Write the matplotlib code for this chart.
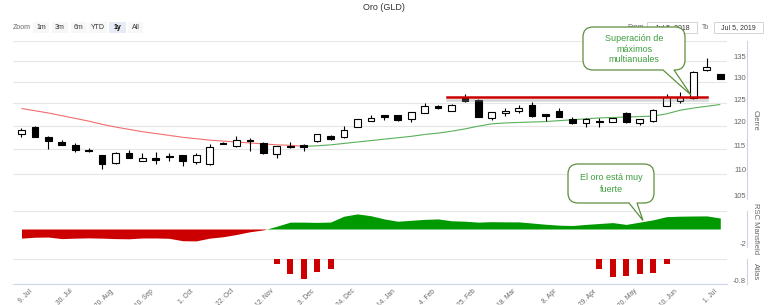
import numpy as np
import matplotlib
matplotlib.use("Agg")
import matplotlib.pyplot as plt
from matplotlib.path import Path
from matplotlib.patches import PathPatch, Rectangle
from matplotlib.lines import Line2D
from matplotlib import transforms
import matplotlib.patheffects as pe

plt.rcParams["font.family"] = ["Liberation Sans", "DejaVu Sans"]

W, H = 768, 305

# Weekly candles, week of 2 Jul 2018 .. week of 1 Jul 2019
opens = [118.2, 119.8, 117.6, 116.5, 115.9, 114.9, 113.7, 112.1, 114.1, 112.6,
         113.1, 113.5, 113.7, 112.3, 111.9, 116.3, 115.6, 117.0, 116.3, 114.0,
         115.7, 115.9, 116.8, 117.8, 117.5, 119.8, 121.1, 122.3, 122.3, 121.4,
         122.9, 124.3, 123.3, 126.1, 125.8, 121.6, 122.7, 123.2, 124.7, 122.5,
         123.3, 121.5, 120.6, 121.0, 120.9, 122.8, 120.5, 121.1, 124.4, 125.5,
         126.2, 132.7, 131.8]
highs = [119.6, 120.0, 117.7, 117.0, 116.3, 115.3, 113.8, 114.4, 114.9, 114.1,
         114.4, 114.2, 113.8, 114.3, 116.1, 116.5, 117.8, 117.3, 116.5, 115.7,
         116.4, 116.1, 118.2, 117.9, 120.0, 121.5, 122.3, 122.4, 122.4, 123.1,
         125.0, 124.6, 124.8, 127.1, 126.0, 123.1, 123.8, 124.5, 125.3, 122.6,
         124.0, 121.8, 121.6, 121.6, 121.7, 123.0, 121.5, 123.6, 127.1, 127.6,
         132.4, 135.7, 131.9]
lows = [117.6, 117.5, 115.1, 115.8, 114.5, 114.5, 111.0, 111.9, 113.1, 112.5,
        111.9, 112.5, 111.6, 111.9, 111.7, 116.0, 115.4, 114.7, 114.0, 113.2,
        115.3, 114.7, 116.4, 117.0, 117.4, 119.7, 121.0, 121.2, 121.1, 120.9,
        122.8, 123.6, 123.2, 125.2, 121.8, 121.2, 122.1, 122.8, 122.0, 121.0,
        121.8, 120.4, 119.8, 119.8, 120.8, 120.6, 120.1, 120.9, 124.3, 125.1,
        126.0, 132.5, 130.5]
closes = [119.0, 117.6, 116.7, 115.9, 114.9, 114.6, 111.9, 114.1, 113.2, 113.2,
          112.8, 113.3, 112.5, 113.8, 115.4, 116.1, 117.0, 116.8, 114.2, 115.6,
          115.4, 115.4, 118.1, 117.2, 119.0, 121.4, 121.6, 121.8, 121.2, 123.0,
          124.4, 124.0, 124.7, 125.4, 121.9, 123.0, 123.3, 124.0, 122.1, 122.1,
          121.9, 120.6, 121.5, 120.8, 121.6, 120.8, 121.4, 123.5, 126.5, 126.4,
          132.2, 133.4, 130.6]

# moving average of the close
ma = [123.8, 123.3, 122.8, 122.2, 121.6, 121.0, 120.3, 119.7, 119.2, 118.7,
      118.3, 117.9, 117.5, 117.2, 116.9, 116.7, 116.5, 116.3, 116.1, 115.9,
      115.8, 115.6, 115.7, 115.9, 116.2, 116.5, 116.8, 117.1, 117.4, 117.7,
      118.1, 118.4, 118.8, 119.3, 119.9, 120.4, 120.6, 120.7, 120.8, 120.9,
      121.1, 121.3, 121.5, 121.7, 121.8, 121.9, 122.0, 122.1, 122.6, 123.4,
      123.9, 124.3, 124.7]

# RSC Mansfield
rsc = [-1.0, -0.9, -0.88, -1.05, -1.0, -0.97, -1.0, -1.05, -1.07, -0.98,
       -0.98, -1.02, -1.28, -1.3, -1.0, -0.85, -0.6, -0.3, -0.1, 0.3,
       0.75, 0.75, 0.72, 0.76, 1.4, 1.65, 1.45, 1.1, 0.85, 0.95,
       1.05, 1.1, 0.9, 0.85, 0.75, 0.8, 0.78, 0.78, 0.65, 0.52,
       0.42, 0.38, 0.5, 0.6, 0.7, 0.5, 0.75, 1.0, 1.35, 1.4,
       1.42, 1.43, 1.2]

# Atlas
atlas_weeks = [19, 20, 21, 22, 23, 43, 44, 45, 46, 47, 48]
atlas_vals = [-0.16, -0.47, -0.64, -0.42, -0.31, -0.32, -0.56, -0.52, -0.48, -0.45, -0.15]

# resistance (multi-year high)
res_level = 126.3
res_start, res_end = 31.7, 51.0

price_ticks = [105, 110, 115, 120, 125, 130, 135, 140]
tick_weeks = list(range(1, 53, 3))
tick_labels = ["9. Jul", "30. Jul", "20. Aug", "10. Sep", "1. Oct", "22. Oct",
               "12. Nov", "3. Dec", "24. Dec", "14. Jan", "4. Feb", "25. Feb",
               "18. Mar", "8. Apr", "29. Apr", "20. May", "10. Jun", "1. Jul"]

GRID = "#e6e6e6"
AXIS = "#ccd6eb"
LABEL = "#666666"
GREEN_TXT = "#3d9e3d"
GREEN_EDGE = "#5e8f3e"

fig = plt.figure(figsize=(W / 100, H / 100), dpi=100)


def fx(px):
    return px / W


def fy(py):
    return 1 - py / H


def panel(top, bottom):
    a = fig.add_axes([fx(13), fy(bottom), fx(727) - fx(13), (bottom - top) / H])
    for s in a.spines.values():
        s.set_visible(False)
    a.set_yticks([])
    a.set_xticks([])
    a.set_xlim(-0.63, 52.5)
    a.patch.set_alpha(0)
    return a


def right_label(a, v, text):
    tr = transforms.blended_transform_factory(a.transAxes, a.transData)
    tr = transforms.offset_copy(tr, fig=fig, x=0, y=3, units="dots")
    a.text((746 - 13) / 714, v, text, transform=tr, ha="right", va="center",
           fontsize=5.5, color=LABEL, clip_on=False)


x = np.arange(len(opens))
o = np.array(opens)
c = np.array(closes)

# ---- price panel
ax = panel(40.7, 199.3)
ax.set_yscale("log")
ax.set_ylim(105, 140)
ax.minorticks_off()
ax.set_yticks([])
for v in price_ticks:
    ax.axhline(v, color=GRID, lw=0.8, zorder=0)
    if v < 140:
        right_label(ax, v, str(v))

up = c >= o
ax.vlines(x, lows, highs, color="black", lw=0.8, zorder=2)
ax.bar(x, np.maximum(np.abs(c - o), 0.08), bottom=np.minimum(o, c), width=0.5,
       color=np.where(up, "white", "black"), edgecolor="black", linewidth=0.8, zorder=3)

ma_arr = np.array(ma)
for i in range(len(ma) - 1):
    col = "#58b058" if ma_arr[i + 1] >= ma_arr[i] else "#f26d6d"
    ax.plot(x[i:i + 2], ma_arr[i:i + 2], color=col, lw=0.8, zorder=1,
            solid_capstyle="butt")

ax.plot([res_start, res_end], [res_level, res_level], color="#cc0000", lw=1.8, zorder=4,
        path_effects=[pe.SimpleLineShadow(offset=(0, -2), shadow_color="#888888", alpha=0.35),
                      pe.Normal()])

# ---- RSC Mansfield panel
ax_rsc = panel(210.7, 247.3)
ax_rsc.set_ylim(-2, 2)
for v in (2, -2):
    ax_rsc.axhline(v, color=GRID, lw=0.8, zorder=0)
right_label(ax_rsc, -2, "-2")
r = np.array(rsc)
ax_rsc.fill_between(x, r, 0, where=r >= 0, interpolate=True, color="#009900", lw=0)
ax_rsc.fill_between(x, r, 0, where=r <= 0, interpolate=True, color="#cc0000", lw=0)

# ---- Atlas panel
ax_atl = panel(259.3, 284.3)
ax_atl.set_ylim(-0.8, 0)
ax_atl.axhline(0, color=GRID, lw=0.8, zorder=0)
ax_atl.spines["bottom"].set_visible(True)
ax_atl.spines["bottom"].set_color(AXIS)
ax_atl.spines["bottom"].set_linewidth(0.8)
right_label(ax_atl, -0.8, "-0.8")
ax_atl.bar(atlas_weeks, atlas_vals, width=0.45, color="#cc0000", zorder=2)
ax_atl.set_xticks(np.array(tick_weeks) - 0.45)
ax_atl.set_xticklabels(tick_labels, rotation=45, ha="right", rotation_mode="anchor",
                       fontsize=4.8, color=LABEL)
ax_atl.tick_params(axis="x", length=0, pad=2.5)

# right axis lines and titles
for top, bottom, title in [(40.7, 199.3, "Cierre"), (210.7, 247.3, "RSC Mansfield"),
                           (259.3, 284.3, "Atlas")]:
    fig.add_artist(Line2D([fx(747), fx(747)], [fy(top), fy(bottom)], color=AXIS, lw=0.8))
    fig.text(fx(755), fy((top + bottom) / 2), title, rotation=270, ha="center",
             va="center", fontsize=5.5, color=LABEL)

# ---- header: title, zoom buttons, date range
fig.text(fx(384), fy(7), "Oro (GLD)", ha="center", va="center", fontsize=6.5, color="#333333")
fig.text(fx(13), fy(27.5), "Zoom", ha="left", va="center", fontsize=5, color=LABEL)
buttons = [("1m", 33, 49), ("3m", 52, 68), ("6m", 71, 87), ("YTD", 89, 107),
           ("1y", 109, 126), ("All", 128, 143)]
for lab, x0, x1 in buttons:
    sel = lab == "1y"
    fig.add_artist(Rectangle((fx(x0), fy(33)), fx(x1 - x0), 11 / H,
                             facecolor="#e6ebf5" if sel else "#f7f7f7", edgecolor="none"))
    fig.text(fx((x0 + x1) / 2), fy(27.5), lab, ha="center", va="center", fontsize=5,
             color="#000000" if sel else "#333333", weight="bold" if sel else "normal")

fig.text(fx(644), fy(27.5), "From", ha="right", va="center", fontsize=5, color=LABEL)
fig.text(fx(709), fy(27.5), "To", ha="right", va="center", fontsize=5, color=LABEL)
for x0, x1, txt in [(647, 697, "Jul 5, 2018"), (714, 763, "Jul 5, 2019")]:
    fig.add_artist(Rectangle((fx(x0), fy(33)), fx(x1 - x0), 11 / H, facecolor="white",
                             edgecolor="#cccccc", lw=0.6, zorder=0.5))
    fig.text(fx((x0 + x1) / 2), fy(27.5), txt, ha="center", va="center", fontsize=5,
             color="#333333", zorder=0.6)


# ---- callouts
def callout(L, R, T, B, tl, tr_, tip, lines, line_ys, rad=10):
    # pixel coords, y measured from the top
    T, B = H - T, H - B
    tip = (tip[0], H - tip[1])
    verts = [(L + rad, T), (R - rad, T), (R, T), (R, T - rad), (R, B + rad), (R, B),
             (R - rad, B), (tr_, B), tip, (tl, B), (L + rad, B), (L, B), (L, B + rad),
             (L, T - rad), (L, T), (L + rad, T), (L + rad, T)]
    codes = [Path.MOVETO, Path.LINETO, Path.CURVE3, Path.CURVE3, Path.LINETO, Path.CURVE3,
             Path.CURVE3, Path.LINETO, Path.LINETO, Path.LINETO, Path.LINETO, Path.CURVE3,
             Path.CURVE3, Path.LINETO, Path.CURVE3, Path.CURVE3, Path.CLOSEPOLY]
    tr = transforms.Affine2D().scale(1 / W, 1 / H) + fig.transFigure
    fig.add_artist(PathPatch(Path(verts, codes), transform=tr, facecolor="white",
                             edgecolor=GREEN_EDGE, lw=0.9, zorder=5))
    for txt, yy in zip(lines, line_ys):
        fig.text(fx((L + R) / 2), fy(yy), txt, ha="center", va="center", fontsize=6.5,
                 color=GREEN_TXT, zorder=6)


callout(583, 685, 27, 70, 663, 674, (691, 95),
        ["Superación de", "máximos", "multianuales"], [38.5, 49, 59.5])
callout(568, 654, 164, 203, 629, 637, (643, 220.5),
        ["El oro está muy", "fuerte"], [178, 189])

fig.savefig("out.png", dpi=100)
